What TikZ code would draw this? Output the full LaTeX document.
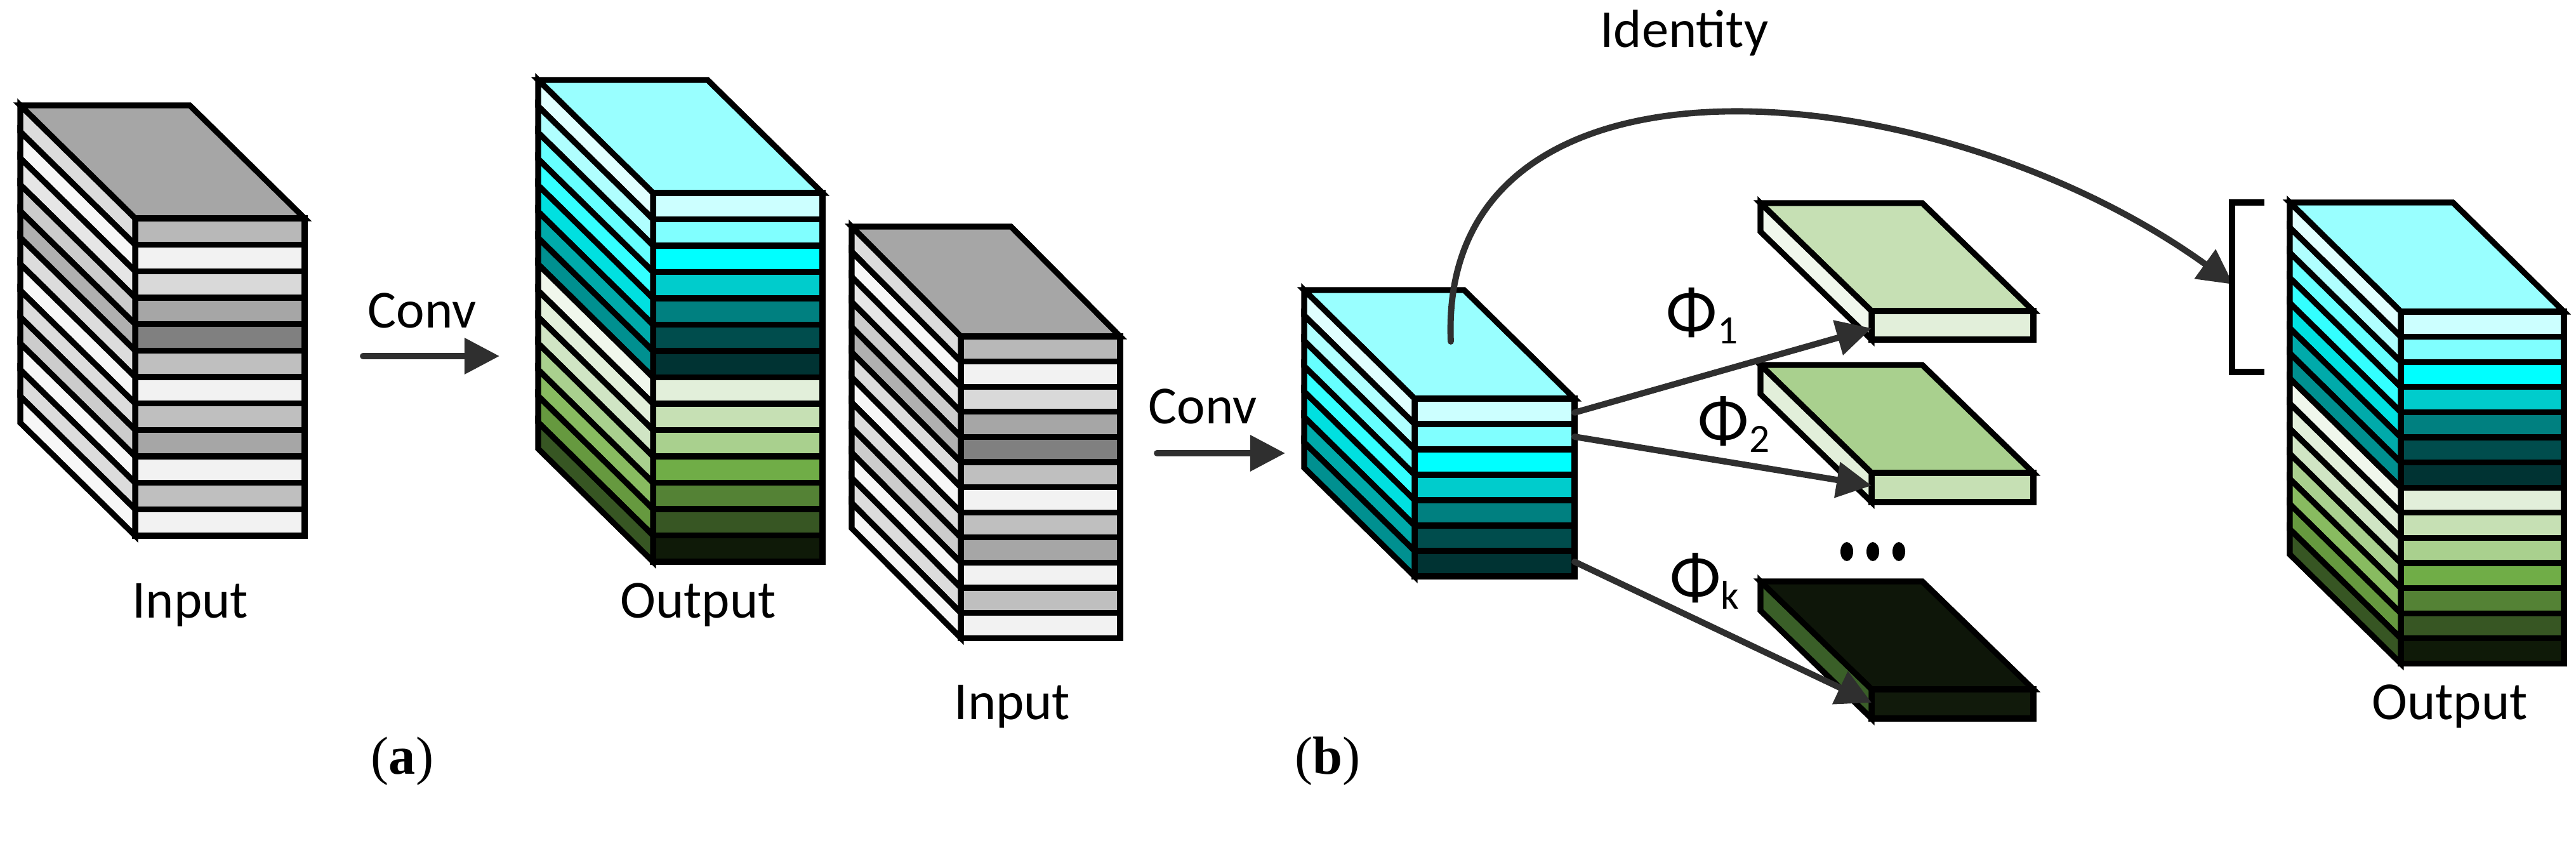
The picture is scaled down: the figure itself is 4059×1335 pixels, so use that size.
\documentclass[tikz,border=0pt]{standalone}
\usepackage{fontspec}
\setmainfont{Carlito}
\newfontfamily\seriffam{Liberation Serif}
\usetikzlibrary{arrows.meta}
\definecolor{arrgray}{HTML}{2F2F2F}
\tikzset{
 edge/.style={line width=2.6pt,draw=black,line join=miter},
 arr/.style={draw=arrgray,line width=2.8pt,line cap=round,-{Triangle[length=0.55cm,width=0.55cm]}},
 lbl/.style={font=\fontsize{24}{28}\selectfont,inner sep=0pt},
 phil/.style={font=\fontsize{30}{34}\selectfont,inner sep=0pt},
 subcap/.style={font=\seriffam\fontsize{24}{28}\selectfont,inner sep=0pt}
}
\newcommand\mycube[8]{%
 \definecolor{tc}{HTML}{#7}%
 \filldraw[fill=tc,edge] (#1,#2)--++(#5,#6)--++(#3,0)--++({-(#5)},{-(#6)})--cycle;
 \foreach \f/\s [count=\i] in #8{
   \definecolor{fc}{HTML}{\f}\definecolor{sc}{HTML}{\s}
   \pgfmathsetmacro\ya{#2+(\i-1)*#4}
   \filldraw[fill=fc,edge] (#1,\ya) rectangle ++(#3,#4);
   \filldraw[fill=sc,edge] (#1,\ya)--++(#5,#6)--++(0,#4)--++({-(#5)},{-(#6)})--cycle;
 }}
\newcommand\myslab[9]{%
 \definecolor{tc}{HTML}{#7}\definecolor{fc}{HTML}{#8}\definecolor{sc}{HTML}{#9}%
 \filldraw[fill=tc,edge] (#1,#2)--++(#5,#6)--++(#3,0)--++({-(#5)},{-(#6)})--cycle;
 \filldraw[fill=fc,edge] (#1,#2) rectangle ++(#3,#4);
 \filldraw[fill=sc,edge] (#1,#2)--++(#5,#6)--++(0,#4)--++({-(#5)},{-(#6)})--cycle;
}
\def\graylist{B8B8B8/DCDCDC,F2F2F2/F7F7F7,D9D9D9/E6E6E6,A6A6A6/CCCCCC,808080/B0B0B0,BFBFBF/DCDCDC,F2F2F2/F7F7F7,BFBFBF/DCDCDC,A6A6A6/CCCCCC,F2F2F2/F7F7F7,BFBFBF/DCDCDC,F2F2F2/F7F7F7}
\def\outlist{CCFFFF/E0FFFF,80FFFF/B0FFFF,00FFFF/66FFFF,00CCCC/33FFFF,008080/00E0E0,004D4D/00AAAA,003333/009090,E2EFDA/F0F7EC,C6E0B4/E2EFDA,A9D08E/D0E5C4,70AD47/A9D08E,548235/88BB60,375623/66993F,0F1A08/375623}
\def\convlist{CCFFFF/E0FFFF,80FFFF/B0FFFF,00FFFF/66FFFF,00CCCC/33FFFF,008080/00E0E0,004D4D/00AAAA,003333/009090}
\begin{document}
\begin{tikzpicture}[x=0.01cm,y=-0.01cm]
\useasboundingbox (0,0) rectangle (4059,1335);
% (a)
\mycube{213}{344}{267}{41.67}{-181}{-178}{A6A6A6}{\graylist}
\node[lbl] (ina) at (300,953) {Input};
\coordinate (ca1) at (572,561); \coordinate (ca2) at (787,561);
\draw[arr] (ca1) -- (ca2);
\node[lbl] (conva) at (665,489) {Conv};
\mycube{1029}{304}{267}{41.5}{-181}{-178}{99FFFF}{\outlist}
\node[lbl] (outa) at (1100,953) {Output};
\node[subcap] (capa) at (634,1199) {(\textbf{a})};
% (b)
\mycube{1514}{530}{251}{39.6}{-172}{-173}{A6A6A6}{\graylist}
\node[lbl] (inb) at (1595,1113) {Input};
\coordinate (cb1) at (1823,714); \coordinate (cb2) at (2025,714);
\draw[arr] (cb1) -- (cb2);
\node[lbl] (convb) at (1895,640) {Conv};
\mycube{2229}{628}{252}{40}{-174}{-171}{99FFFF}{\convlist}
\myslab{2949}{490}{255}{45}{-175}{-170}{C6E0B4}{E2EFDA}{F0F7EC}
\myslab{2949}{745}{255}{46}{-175}{-170}{A9D08E}{C6E0B4}{E2EFDA}
\myslab{2949}{1086}{255}{46}{-175}{-170}{0E1609}{111A0B}{3A5F28}
\coordinate (s1) at (2481,650); \coordinate (e1) at (2949,517);
\coordinate (s2) at (2481,688); \coordinate (e2) at (2949,765);
\coordinate (sk) at (2481,885); \coordinate (ek) at (2949,1107);
\draw[arr] (s1) -- (e1);
\draw[arr] (s2) -- (e2);
\draw[arr] (sk) -- (ek);
\node[phil] (p1) at (2682,497) {Φ\raisebox{-0.3ex}{\fontsize{18}{20}\selectfont 1}};
\node[phil] (p2) at (2732,668) {Φ\raisebox{-0.3ex}{\fontsize{18}{20}\selectfont 2}};
\node[phil] (pk) at (2686,915) {Φ\raisebox{-0.3ex}{\fontsize{18}{20}\selectfont k}};
\foreach \xx in {2910,2951,2992}{\fill (\xx,869) ellipse [x radius=10, y radius=15];}
\coordinate (idS) at (2286,538); \coordinate (idE) at (3519,448);
\draw[arr] (idS) .. controls (2265,40) and (3050,110) .. (idE);
\node[lbl] (idl) at (2654,52) {Identity};
\draw[line width=2.6pt] (3568,319) -- (3517,319) -- (3517,586) -- (3568,586);
\mycube{3783}{491}{257}{39.6}{-175}{-172}{99FFFF}{\outlist}
\node[lbl] (outb) at (3860,1113) {Output};
\node[subcap] (capb) at (2092,1199) {(\textbf{b})};
\end{tikzpicture}
\end{document}
